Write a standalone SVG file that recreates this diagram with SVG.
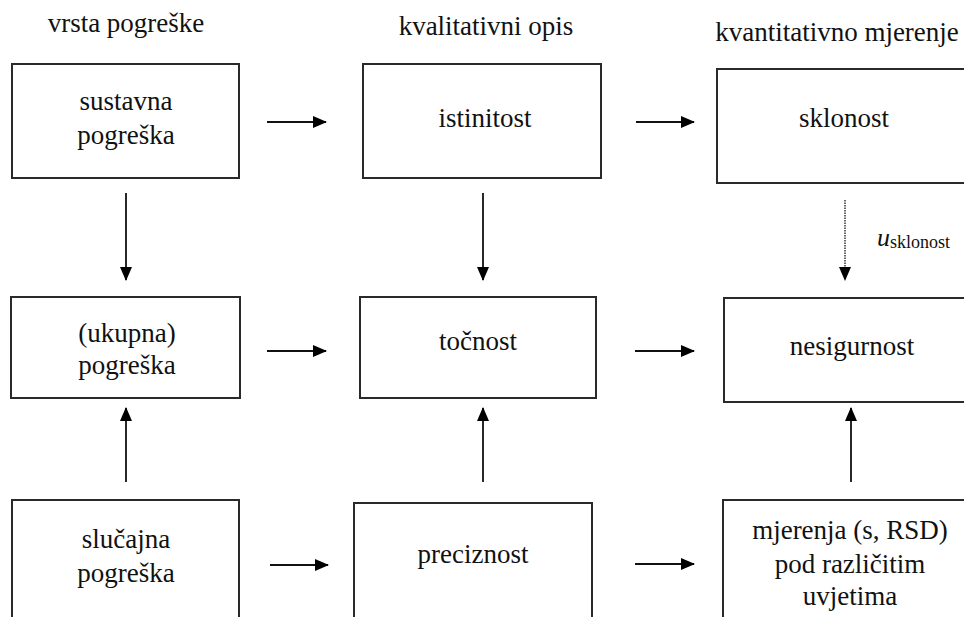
<svg xmlns="http://www.w3.org/2000/svg" width="964" height="617" viewBox="0 0 964 617">
  <defs>
    <marker id="ah" viewBox="0 0 14 12" refX="13" refY="6" markerWidth="14" markerHeight="12" markerUnits="userSpaceOnUse" orient="auto">
      <path d="M0,0 L14,6 L0,12 Z" fill="#000"/>
    </marker>
    <style>
      text { font-family: 'Liberation Serif', Tinos, 'Times New Roman', 'DejaVu Serif', serif; }
      .box { fill: #fff; stroke: #2a2a2a; stroke-width: 2; }
      .t { font-size: 27px; fill: #111; text-anchor: middle; }
      .h { font-size: 27px; fill: #111; text-anchor: middle; }
      .c { stroke: #111; stroke-width: 1.8; fill: none; marker-end: url(#ah); }
      .d { stroke: #333; stroke-width: 1.5; fill: none; stroke-dasharray: 1.5 1; marker-end: url(#ah); }
    </style>
  </defs>
  <rect width="964" height="617" fill="#fff"/>

  <g id="headings">
    <text class="h" x="126" y="32">vrsta pogreške</text>
    <text class="h" x="486" y="35">kvalitativni opis</text>
    <text class="h" x="837" y="41">kvantitativno mjerenje</text>
  </g>

  <g id="sustavna">
    <rect class="box" x="12" y="64" width="227" height="114"/>
    <text class="t" x="126" y="110">sustavna</text>
    <text class="t" x="126" y="144">pogreška</text>
  </g>
  <g id="istinitost">
    <rect class="box" x="363" y="64" width="238" height="114"/>
    <text class="t" x="485" y="127">istinitost</text>
  </g>
  <g id="sklonost">
    <rect class="box" x="717" y="69" width="260" height="114"/>
    <text class="t" x="844" y="127">sklonost</text>
  </g>

  <g id="ukupna">
    <rect class="box" x="11" y="297" width="229" height="101"/>
    <text class="t" x="127" y="342">(ukupna)</text>
    <text class="t" x="127" y="374">pogreška</text>
  </g>
  <g id="tocnost">
    <rect class="box" x="360" y="297" width="236" height="101"/>
    <text class="t" x="478" y="350">točnost</text>
  </g>
  <g id="nesigurnost">
    <rect class="box" x="724" y="298" width="260" height="104"/>
    <text class="t" x="852" y="355">nesigurnost</text>
  </g>

  <g id="slucajna">
    <rect class="box" x="12" y="500" width="227" height="140"/>
    <text class="t" x="126" y="548">slučajna</text>
    <text class="t" x="126" y="582">pogreška</text>
  </g>
  <g id="preciznost">
    <rect class="box" x="354" y="503" width="238" height="140"/>
    <text class="t" x="473" y="563">preciznost</text>
  </g>
  <g id="mjerenja">
    <rect class="box" x="723" y="500" width="260" height="140"/>
    <text class="t" x="850" y="539">mjerenja (s, RSD)</text>
    <text class="t" x="850" y="573">pod različitim</text>
    <text class="t" x="850" y="605">uvjetima</text>
  </g>

  <g id="connectors">
    <line class="c" x1="267" y1="122" x2="326" y2="122"/>
    <line class="c" x1="636" y1="122" x2="694" y2="122"/>
    <line class="c" x1="267" y1="351" x2="326" y2="351"/>
    <line class="c" x1="635" y1="351" x2="694" y2="351"/>
    <line class="c" x1="270" y1="565" x2="328" y2="565"/>
    <line class="c" x1="635" y1="564" x2="694" y2="564"/>
    <line class="c" x1="126" y1="193" x2="126" y2="280"/>
    <line class="c" x1="483" y1="193" x2="483" y2="280"/>
    <line class="d" x1="845" y1="200" x2="845" y2="280"/>
    <line class="c" x1="126" y1="482" x2="126" y2="408"/>
    <line class="c" x1="483" y1="482" x2="483" y2="408"/>
    <line class="c" x1="851" y1="482" x2="851" y2="408"/>
    <text x="877" y="246" font-style="italic" font-size="26" fill="#111">u</text>
    <text x="890" y="248" font-size="18" fill="#111">sklonost</text>
  </g>
</svg>
